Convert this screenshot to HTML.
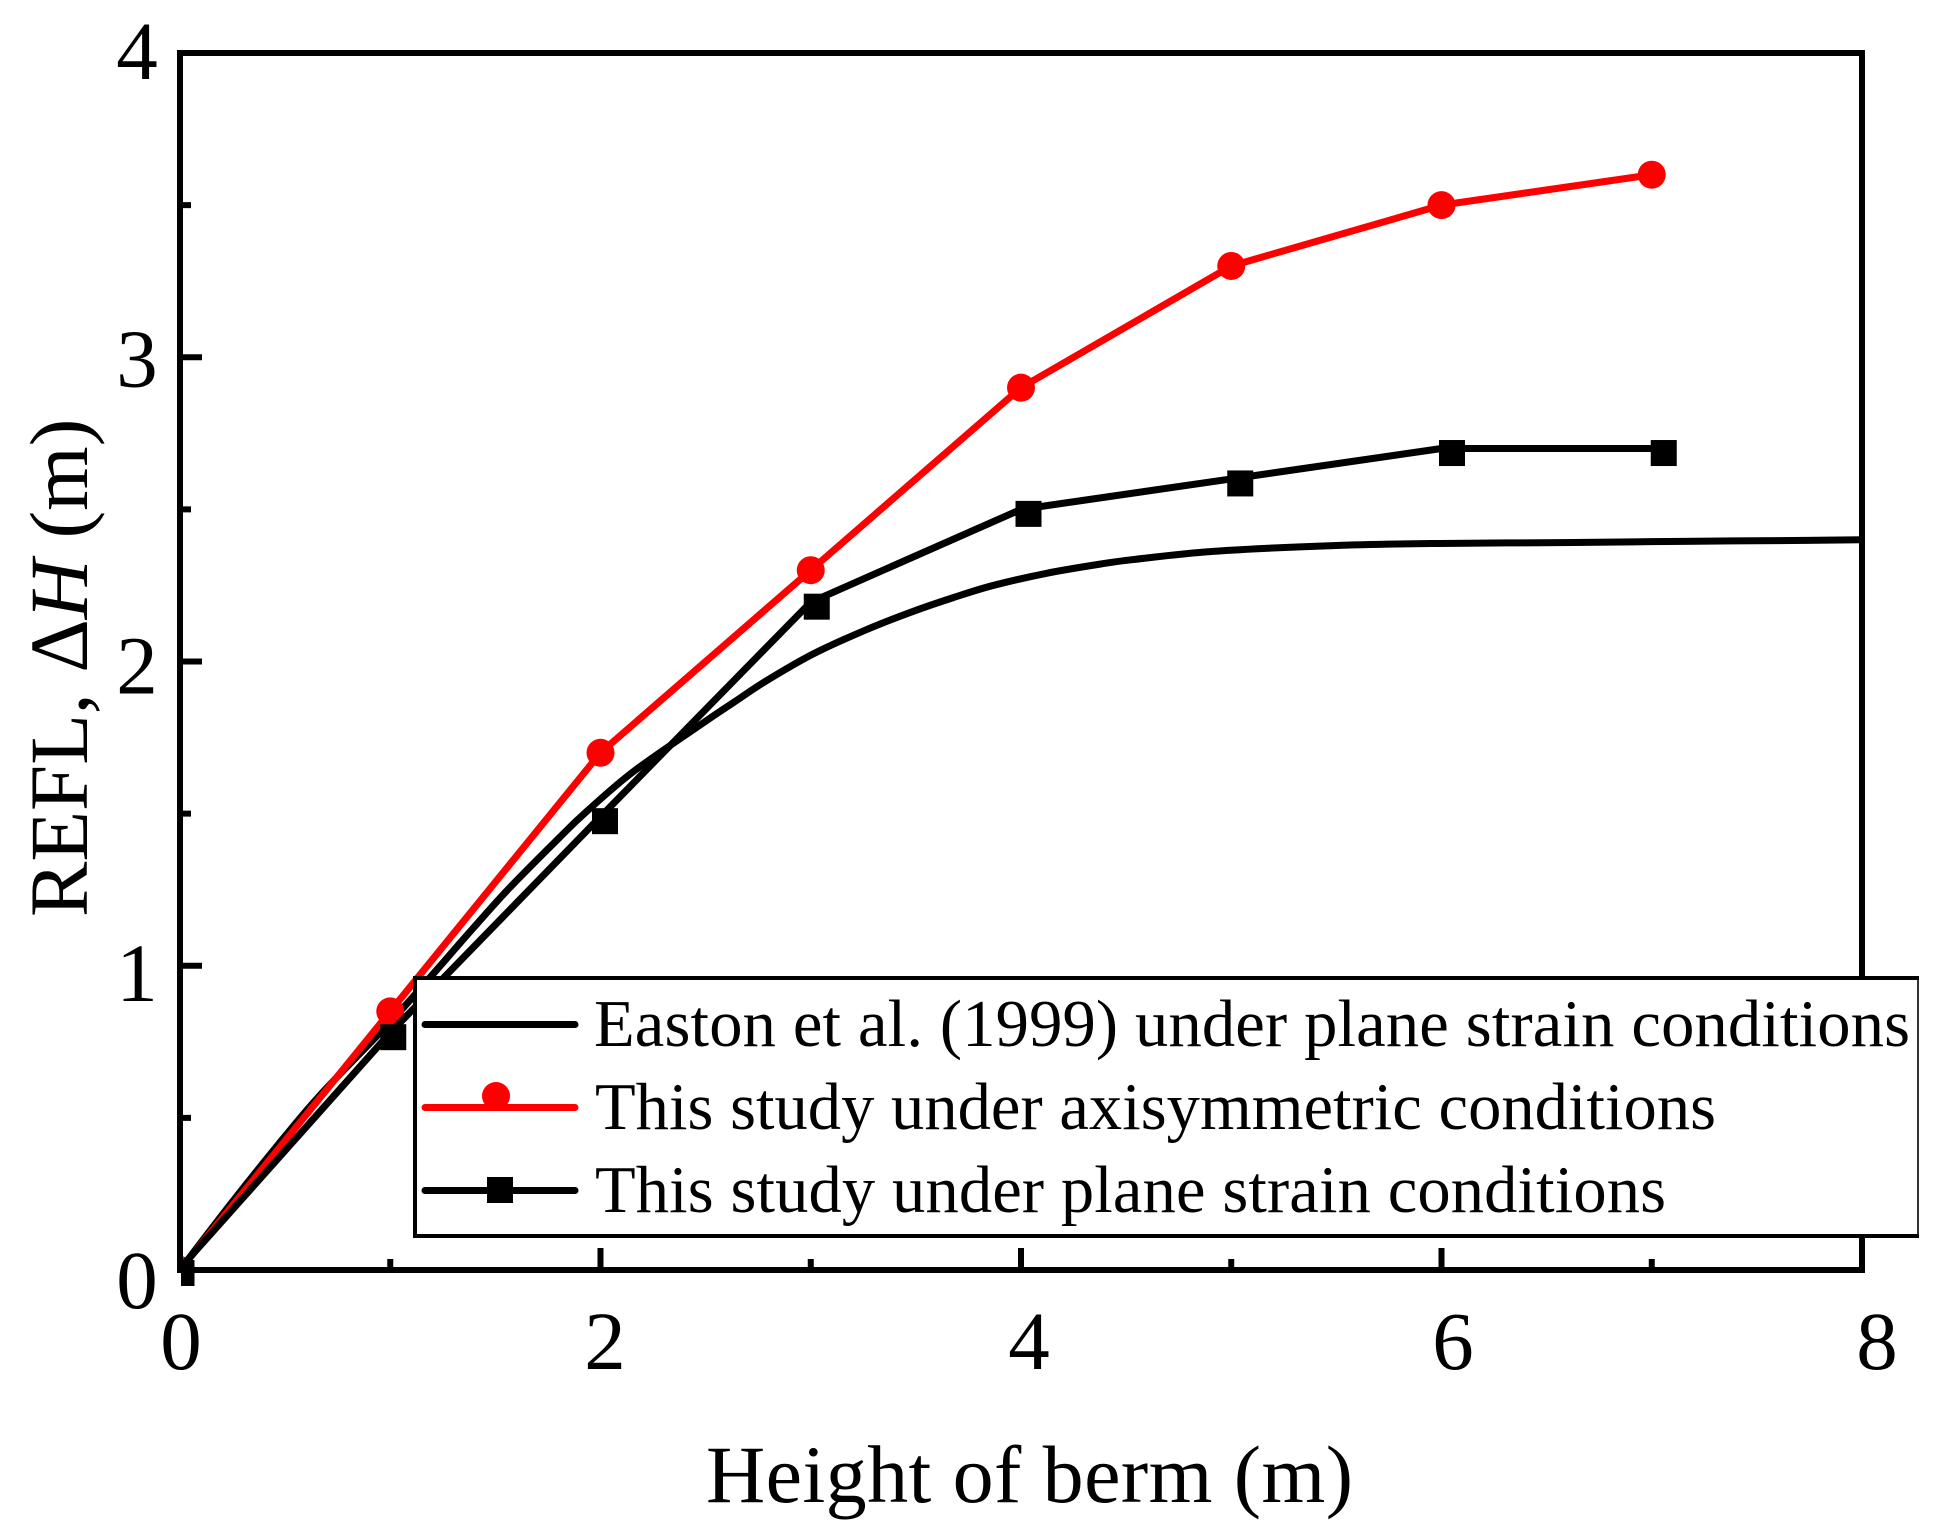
<!DOCTYPE html>
<html lang="en">
<head>
<meta charset="utf-8">
<title>REFL versus height of berm</title>
<style>
html,body{margin:0;padding:0;background:#fff;}
svg{display:block;}
text{font-family:"Liberation Serif",serif;fill:#000;}
</style>
</head>
<body>
<svg id="chart" xmlns="http://www.w3.org/2000/svg" width="1945" height="1538" viewBox="0 0 1945 1538">
  <defs>
    <clipPath id="marker-clip"><rect x="181" y="0" width="1764" height="1538"/></clipPath>
  </defs>
  <rect x="0" y="0" width="1945" height="1538" fill="#fff"/>
  <g id="series-layer"></g>
  <g id="axis-layer"></g>

  <text x="706" y="1502" font-size="82" textLength="647">Height of berm (m)</text>
  <text transform="translate(87 917) rotate(-90)" font-size="83">REFL, Δ<tspan font-style="italic">H</tspan> (m)</text>

  <g>
    <rect x="415" y="978" width="1503" height="258" fill="#fff"/>
    <line x1="413" y1="978" x2="1919" y2="978" stroke="#000" stroke-width="4"/>
    <line x1="413" y1="1236" x2="1919" y2="1236" stroke="#000" stroke-width="4"/>
    <line x1="415" y1="976" x2="415" y2="1238" stroke="#000" stroke-width="4"/>
    <line x1="1918" y1="976" x2="1918" y2="1238" stroke="#000" stroke-width="1.6"/>

    <g>
      <line x1="425" y1="1024.5" x2="575" y2="1024.5" stroke="#000" stroke-width="7" stroke-linecap="round"/>
      <text x="594" y="1046" font-size="66.5" textLength="1316">Easton et al. (1999) under plane strain conditions</text>
    </g>
    <g>
      <circle cx="496" cy="1096" r="14" fill="#f00"/>
      <line x1="425" y1="1107.5" x2="575" y2="1107.5" stroke="#f00" stroke-width="7" stroke-linecap="round"/>
      <text x="595" y="1129" font-size="66.5" textLength="1121">This study under axisymmetric conditions</text>
    </g>
    <g>
      <line x1="425" y1="1190.5" x2="575" y2="1190.5" stroke="#000" stroke-width="7" stroke-linecap="round"/>
      <rect x="487" y="1177" width="26" height="26" fill="#000"/>
      <text x="595" y="1212" font-size="66.5" textLength="1071">This study under plane strain conditions</text>
    </g>
  </g>
</svg>
<script>
var xTickLabels = ["0", "2", "4", "6", "8"];
var xMinorTicks = [1, 3, 5, 7];
var yTickLabels = ["0", "1", "2", "3", "4"];
var yMinorTicks = [0.5, 1.5, 2.5, 3.5];

var eastonX = [0, 0.25, 0.5, 0.68, 1, 1.2, 1.32, 1.4, 1.57, 1.81, 1.934, 2.156, 2.473, 2.632, 2.79, 3.012, 3.266, 3.488, 3.678, 3.868, 4.122, 4.376, 4.534, 4.914, 5.485, 5.99, 6.627, 7.15, 7.737, 8];
var eastonY = [0, 0.225, 0.44, 0.585, 0.815, 0.97, 1.065, 1.128, 1.258, 1.425, 1.507, 1.638, 1.791, 1.865, 1.937, 2.025, 2.105, 2.165, 2.21, 2.25, 2.29, 2.32, 2.335, 2.362, 2.381, 2.388, 2.391, 2.395, 2.398, 2.4];

var axisymmetricX = [0, 1, 2, 3, 4, 5, 6, 7];
var axisymmetricY = [0, 0.85, 1.7, 2.3, 2.9, 3.3, 3.5, 3.6];

var planeStrainX = [0, 1, 2, 3, 4, 5, 6, 7];
var planeStrainY = [0.005, 0.78, 1.49, 2.195, 2.5, 2.6, 2.7, 2.7];

var SVG_NS = "http://www.w3.org/2000/svg";
var seriesLayer = document.getElementById("series-layer");
var axisLayer = document.getElementById("axis-layer");

function px(v) { return 180 + 210.25 * v; }
function py(v) { return 1270 - 304.25 * v; }
function xLabelPos(v) { return 181 + 212 * v; }
function yLabelBaseline(v) { return 1308 - 307.25 * v; }
function planeMarkerX(v) { return px(v) + 1.5 + 1.5 * v; }
function planeMarkerY(v) { return py(v) + 4.5; }

function make(tag, parent) {
  var el = document.createElementNS(SVG_NS, tag);
  parent.appendChild(el);
  return el;
}
function setAll(el, props) {
  for (var k in props) { el.setAttribute(k, props[k]); }
}
function pathFrom(xs, ys) {
  var d = "";
  for (var i = 0; i < xs.length; i++) {
    d += (i ? "L" : "M") + px(xs[i]).toFixed(2) + " " + py(ys[i]).toFixed(2);
  }
  return d;
}
function smoothPathFrom(xs, ys) {
  var pts = xs.map(function (x, i) { return [px(x), py(ys[i])]; });
  var d = "M" + pts[0][0].toFixed(2) + " " + pts[0][1].toFixed(2);
  for (var i = 0; i < pts.length - 1; i++) {
    var p0 = pts[Math.max(i - 1, 0)], p1 = pts[i], p2 = pts[i + 1], p3 = pts[Math.min(i + 2, pts.length - 1)];
    var c1x = p1[0] + (p2[0] - p0[0]) / 6, c1y = p1[1] + (p2[1] - p0[1]) / 6;
    var c2x = p2[0] - (p3[0] - p1[0]) / 6, c2y = p2[1] - (p3[1] - p1[1]) / 6;
    d += "C" + c1x.toFixed(2) + " " + c1y.toFixed(2) + " " + c2x.toFixed(2) + " " + c2y.toFixed(2) + " " + p2[0].toFixed(2) + " " + p2[1].toFixed(2);
  }
  return d;
}

var eastonLine = make("path", seriesLayer);


setAll(eastonLine, {d: smoothPathFrom(eastonX, eastonY), fill: "none", stroke: "#000", "stroke-width": 7, "stroke-linejoin": "round"});

var redGroup = make("g", seriesLayer);


redGroup.setAttribute("clip-path", "url(#marker-clip)");
var redLine = make("path", redGroup);


setAll(redLine, {d: pathFrom(axisymmetricX, axisymmetricY), fill: "none", stroke: "#f00", "stroke-width": 7, "stroke-linejoin": "round"});
axisymmetricX.forEach(function (x, i) {
  var c = make("circle", redGroup);
  
  
  setAll(c, {cx: px(x), cy: py(axisymmetricY[i]), r: 14, fill: "#f00"});
});

var planeGroup = make("g", seriesLayer);


planeGroup.setAttribute("clip-path", "url(#marker-clip)");
var planeLine = make("path", planeGroup);


setAll(planeLine, {d: pathFrom(planeStrainX, planeStrainY), fill: "none", stroke: "#000", "stroke-width": 7, "stroke-linejoin": "round"});
planeStrainX.forEach(function (x, i) {
  var r = make("rect", planeGroup);
  
  
  setAll(r, {x: planeMarkerX(x) - 13, y: planeMarkerY(planeStrainY[i]) - 13, width: 26, height: 26, fill: "#000"});
});

var frame = make("rect", axisLayer);


setAll(frame, {x: 180, y: 53, width: 1682, height: 1217, fill: "none", stroke: "#000", "stroke-width": 6});

xTickLabels.forEach(function (label) {
  var v = Number(label);
  var t = make("line", axisLayer);
  
  
  setAll(t, {x1: px(v), x2: px(v), y1: 1270, y2: 1248, stroke: "#000", "stroke-width": 6});
  var s = make("text", axisLayer);
  
  
  setAll(s, {x: xLabelPos(v), y: 1369, "font-size": 83, "text-anchor": "middle"});
  s.textContent = label;
});
xMinorTicks.forEach(function (v) {
  var t = make("line", axisLayer);
  
  
  setAll(t, {x1: px(v), x2: px(v), y1: 1270, y2: 1259, stroke: "#000", "stroke-width": 6});
});
yTickLabels.forEach(function (label) {
  var v = Number(label);
  var t = make("line", axisLayer);
  
  
  setAll(t, {x1: 180, x2: 202, y1: py(v), y2: py(v), stroke: "#000", "stroke-width": 6});
  var s = make("text", axisLayer);
  
  
  setAll(s, {x: 137, y: yLabelBaseline(v), "font-size": 83, "text-anchor": "middle"});
  s.textContent = label;
});
yMinorTicks.forEach(function (v) {
  var t = make("line", axisLayer);
  
  
  setAll(t, {x1: 180, x2: 191, y1: py(v), y2: py(v), stroke: "#000", "stroke-width": 6});
});
</script>
</body>
</html>
